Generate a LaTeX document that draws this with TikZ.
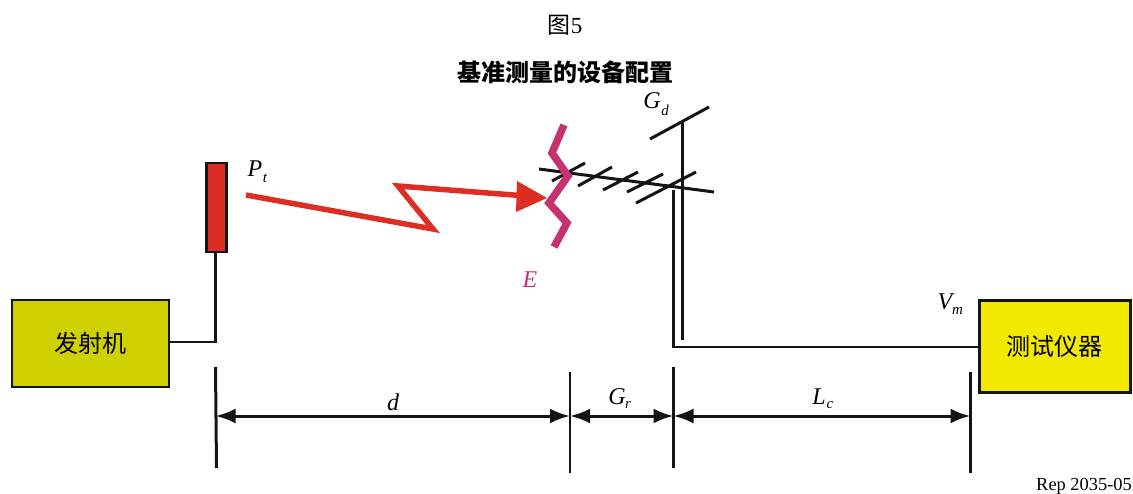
\documentclass[tikz,border=0pt]{standalone}
\usepackage{fontspec}
\setmainfont{Liberation Serif}
\newfontfamily\cjk{Noto Sans CJK SC}
\usetikzlibrary{arrows.meta,calc}
\definecolor{linek}{HTML}{141414}
\definecolor{redc}{HTML}{DC2E22}
\definecolor{pinkc}{HTML}{C5326F}
\definecolor{oliveb}{HTML}{CFD000}
\definecolor{yellowb}{HTML}{F2E900}
\tikzset{
  wire/.style={draw=linek,line width=2.4pt},
  ant/.style={draw=linek,line width=3pt},
  tick/.style={draw=linek,line width=3pt},
  dim/.style={draw=linek,line width=3pt,{Latex[length=20pt,width=15pt]}-{Latex[length=20pt,width=15pt]}},
  boxn/.style={draw=linek,line width=2.4pt,inner sep=0pt,minimum height=0pt},
  lab/.style={inner sep=0pt,font=\fontsize{24}{26}\selectfont\itshape},
  sub/.style={inner sep=0pt,font=\fontsize{15}{17}\selectfont\itshape},
  cn/.style={inner sep=0pt,font=\cjk\fontsize{24}{26}\selectfont},
}
\begin{document}
\begin{tikzpicture}[x=1pt,y=-1pt]
\useasboundingbox (0,0) rectangle (1133,493);
% titles
\node[inner sep=0pt,font=\fontsize{23}{25}\selectfont] (fig) at (565,25) {{\cjk 图}5};
\node[inner sep=0pt,font=\cjk\bfseries\fontsize{24}{26}\selectfont] (title) at (565,72) {基准测量的设备配置};
% boxes
\node[boxn,fill=oliveb,minimum width=157pt,minimum height=87pt,cn] (tx) at (90.5,343.5) {发射机};
\node[boxn,fill=yellowb,minimum width=151pt,minimum height=92pt,cn,line width=3pt] (meter) at (1054.5,346) {测试仪器};
\node[boxn,fill=redc,minimum width=20pt,minimum height=89pt] (emit) at (216.5,207.5) {};
% feed
\draw[wire] (tx.east |- 0,342) -- (215.5,342) -- (emit.south -| 215.5,0);
% antenna
\coordinate (mastT) at (682,122);
\coordinate (mastB) at (682,340);
\coordinate (cabT) at (673.5,190);
\coordinate (cabC) at (673.5,347);
\coordinate (boomA) at (539,169);
\coordinate (boomB) at (714,192);
\draw[ant] (mastT) -- (mastB);
\draw[wire,line width=2.6pt] (cabT) -- (cabC) -- (cabC -| meter.west);
\draw[ant] (boomA) -- (boomB);
\draw[ant] (650,139) -- (709,107);
\draw[ant] (552,181) -- (585,163);
\draw[ant] (578,186) -- (612,167);
\draw[ant] (603,190) -- (638,172);
\draw[ant] (627,192) -- (663,174);
\draw[ant] (636,203) -- (696,172);
% dipole
\draw[draw=pinkc,line width=7.5pt,line join=miter] (564,125) -- (552,153) -- (568,176) -- (549,203) -- (567,223) -- (554,247);
% lightning
\coordinate (bs) at (246,195);
\coordinate (bm) at (433,229);
\coordinate (bn) at (398,186);
\coordinate (be) at (520,195.5);
\draw[draw=redc,line width=5.5pt,line join=miter] (bs) -- (bm) -- (bn) -- (be);
\fill[redc] (517,181) -- (547,198) -- (516,212) -- cycle;
% dimensions
\coordinate (t1) at (215.5,367); \coordinate (t1b) at (216.5,468);
\coordinate (t2) at (570,372); \coordinate (t2b) at (570,473);
\coordinate (t3) at (673.5,367); \coordinate (t3b) at (673.5,468);
\coordinate (t4) at (970.5,372); \coordinate (t4b) at (970.5,473);
\draw[tick] (t1) -- (t1b);
\draw[tick,line width=2.2pt] (t2) -- (t2b);
\draw[tick] (t3) -- (t3b);
\draw[tick] (t4) -- (t4b);
\draw[dim] (t1 |- 0,416) -- (t2 |- 0,416);
\draw[dim] (t2 |- 0,416) -- (t3 |- 0,416);
\draw[dim] (t3 |- 0,416) -- (t4 |- 0,416);
% labels
\node[lab] (pt) at (255,169) {P};
\node[sub] (pts) at (265,178) {t};
\node[lab] (gd) at (652,101) {G};
\node[sub] (gds) at (665,110) {d};
\node[lab,text=pinkc] (e) at (530,280) {E};
\node[lab] (vm) at (945,302) {V};
\node[sub] (vms) at (957.5,311) {m};
\node[lab] (dl) at (393,402) {d};
\node[lab] (gr) at (617,397) {G};
\node[sub] (grs) at (628,405) {r};
\node[lab] (lc) at (819,397) {L};
\node[sub] (lcs) at (830,405) {c};
\node[inner sep=0pt,anchor=base east,font=\fontsize{18.4}{20}\selectfont] (rep) at (1132,490) {Rep 2035-05};
\end{tikzpicture}
\end{document}
